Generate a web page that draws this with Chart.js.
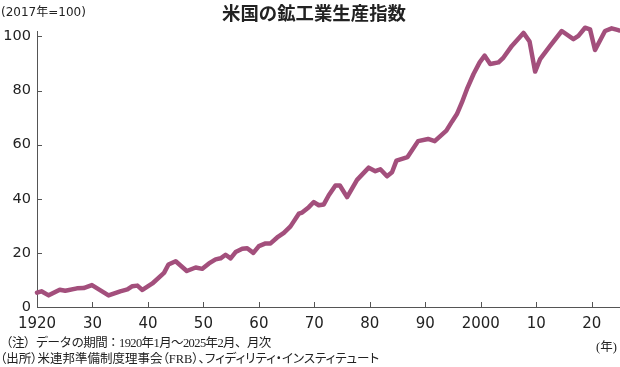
<!DOCTYPE html>
<html>
<head>
<meta charset="utf-8">
<script src="https://cdn.jsdelivr.net/npm/chart.js"></script>
<style>
  body { margin: 0; background: #fff; }
  #wrap { position: relative; width: 620px; height: 367px; overflow: hidden; }
  .txt { position: absolute; color: #222; white-space: nowrap; }
  #title { top: 0; left: 222px; font: bold 18.4px "Noto Sans CJK JP"; line-height: 24px; }
  #unit { top: 3px; left: 1px; font: 12px "DejaVu Sans", "Noto Sans CJK JP"; line-height: 18px; }
  .note { left: 0px; font: 12.5px "Liberation Serif", "Noto Sans CJK JP"; line-height: 16px; }
  #note1 { top: 335px; letter-spacing: -0.6px; }
  #note2 { top: 351px; font-feature-settings: "palt"; }
  #nen { top: 339px; left: 596px; font: 12.5px "Liberation Serif", "Noto Sans CJK JP"; line-height: 16px; }
</style>
</head>
<body>
<div id="wrap">
  <canvas id="myChart" width="620" height="367"></canvas>
  <div class="txt" id="title">米国の鉱工業生産指数</div>
  <div class="txt" id="unit">(2017年=100)</div>
  <div class="txt note" id="note1">（注）データの期間：1920年1月～2025年2月、月次</div>
  <div class="txt note" id="note2">（出所）米連邦準備制度理事会（FRB）、フィディリティ・インスティテュート</div>
  <div class="txt" id="nen">(年)</div>
</div>
<script>
// values
const years = [
  1920.0, 1920.8, 1922.1, 1924.1, 1925.1, 1927.2, 1928.4, 1929.9, 1932.9, 1935.0,
  1936.3, 1937.2, 1938.1, 1939.0, 1940.8, 1942.9, 1943.7, 1945.0, 1947.0, 1948.6,
  1949.8, 1951.0, 1952.2, 1953.1, 1954.0, 1954.9, 1955.8, 1957.0, 1957.9, 1959.0,
  1960.0, 1961.2, 1962.1, 1963.3, 1964.5, 1965.7, 1967.2, 1967.8, 1969.0, 1969.9,
  1970.8, 1971.7, 1972.6, 1973.8, 1974.6, 1975.9, 1977.7, 1979.8, 1981.0, 1981.9,
  1983.1, 1984.0, 1984.8, 1986.8, 1988.7, 1990.5, 1991.7, 1993.8, 1994.8, 1995.7,
  1996.6, 1997.5, 1998.7, 1999.8, 2000.7, 2001.7, 2003.2, 2004.1, 2005.6, 2007.7,
  2008.8, 2009.8, 2010.7, 2012.5, 2014.6, 2016.7, 2017.6, 2018.8, 2019.7, 2020.6,
  2022.4, 2023.6, 2024.8, 2025.1
];
const values = [
  5.3, 5.8, 4.3, 6.4, 6.0, 6.9, 7.0, 8.1, 4.3, 5.8,
  6.5, 7.7, 7.9, 6.3, 8.7, 12.6, 15.7, 16.9, 13.3, 14.6,
  14.1, 16.1, 17.6, 18.0, 19.3, 18.0, 20.3, 21.5, 21.7, 20.0,
  22.5, 23.5, 23.5, 25.7, 27.4, 29.8, 34.5, 34.9, 36.9, 38.8,
  37.6, 37.9, 41.3, 44.9, 44.9, 40.6, 47.0, 51.5, 50.2, 50.9,
  48.3, 49.8, 54.1, 55.4, 61.3, 62.1, 61.3, 65.2, 68.5, 71.3,
  75.6, 80.5, 86.1, 90.4, 92.9, 89.8, 90.4, 92.2, 96.5, 101.3,
  98.1, 87.0, 91.6, 96.5, 102.0, 99.0, 100.2, 103.2, 102.6, 95.0,
  102.0, 103.0, 102.3, 102.2
];
const xTicks = [1920, 1930, 1940, 1950, 1960, 1970, 1980, 1990, 2000, 2010, 2020];
const xTickLabels = ['1920', '30', '40', '50', '60', '70', '80', '90', '2000', '10', '20'];
const yTicks = [0, 20, 40, 60, 80, 100];

const axisColor = '#555';

// short tick marks pointing into the plot
const innerTicks = {
  id: 'innerTicks',
  afterDraw(chart) {
    const c = chart.ctx;
    const xs = chart.scales.x, ys = chart.scales.y;
    c.save();
    c.strokeStyle = axisColor;
    c.lineWidth = 1;
    c.beginPath();
    yTicks.forEach(v => {
      const p = Math.round(ys.getPixelForValue(v)) + 0.5;
      c.moveTo(xs.left, p);
      c.lineTo(xs.left + 5, p);
    });
    xTicks.forEach(v => {
      if (v === 1920) return;
      const p = Math.round(xs.getPixelForValue(v)) + 0.5;
      c.moveTo(p, ys.bottom);
      c.lineTo(p, ys.bottom - 5);
    });
    c.stroke();
    c.restore();
  }
};

const ctx = document.getElementById('myChart').getContext('2d');
const myChart = new Chart(ctx, {
  type: 'line',
  data: {
    datasets: [{
      data: years.map((x, i) => ({ x: x, y: values[i] })),
      borderColor: '#a34f7c',
      borderWidth: 4.5,
      borderJoinStyle: 'round',
      borderCapStyle: 'round',
      pointRadius: 0,
      tension: 0,
      clip: false
    }]
  },
  options: {
    responsive: false,
    devicePixelRatio: 1,
    animation: false,
    layout: { padding: { top: 31, left: 0, right: 0, bottom: 0 } },
    plugins: { legend: { display: false }, tooltip: { enabled: false } },
    scales: {
      x: {
        type: 'linear',
        min: 1920,
        max: 2025.1,
        afterBuildTicks: s => { s.ticks = xTicks.map(v => ({ value: v })); },
        afterFit: s => { s.height = 60; },
        grid: { display: true, drawOnChartArea: false, drawTicks: false },
        border: { color: axisColor, width: 1 },
        ticks: {
          padding: 8,
          maxRotation: 0,
          autoSkip: false,
          color: '#222',
          font: { family: 'DejaVu Sans', size: 15 },
          callback: v => xTickLabels[xTicks.indexOf(v)]
        }
      },
      y: {
        min: 0,
        max: 102,
        afterBuildTicks: s => { s.ticks = yTicks.map(v => ({ value: v })); },
        afterFit: s => { s.width = 37; },
        grid: { display: true, drawOnChartArea: false, drawTicks: false },
        border: { color: axisColor, width: 1 },
        ticks: {
          padding: 6,
          color: '#222',
          font: { family: 'DejaVu Sans', size: 14.5 }
        }
      }
    }
  },
  plugins: [innerTicks]
});
</script>
</body>
</html>
